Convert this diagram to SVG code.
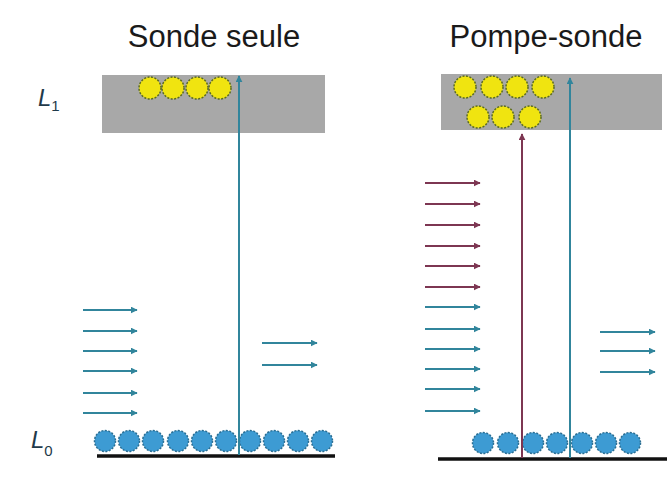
<svg xmlns="http://www.w3.org/2000/svg" width="667" height="485" viewBox="0 0 667 485">
<defs>
<style>
.title{font-family:"Liberation Sans",Arial,sans-serif;font-size:31px;fill:#1a1a1a}
.lvl{font-family:"Liberation Sans",Arial,sans-serif;font-style:italic;font-size:24px;fill:#1f3a4a}
.sub{font-style:normal;font-size:15px}
.band{fill:#a8a8a8}
.y{fill:#f0e410;stroke:#5a6a20;stroke-width:1.5;stroke-dasharray:2 1.5}
.b{fill:#3d9bd3;stroke:#2b6e92;stroke-width:1.5;stroke-dasharray:2 1.5}
.base{stroke:#111;stroke-width:3.5}
.t{stroke:#31859c;stroke-width:2;fill:none}
.r{stroke:#7d3652;stroke-width:2;fill:none}
</style>
<marker id="ht" viewBox="0 0 10 10" refX="9" refY="5" markerWidth="7" markerHeight="7" orient="auto" markerUnits="userSpaceOnUse"><path d="M0,0 L10,5 L0,10 z" fill="#31859c"/></marker>
<marker id="hr" viewBox="0 0 10 10" refX="9" refY="5" markerWidth="7" markerHeight="7" orient="auto" markerUnits="userSpaceOnUse"><path d="M0,0 L10,5 L0,10 z" fill="#7d3652"/></marker>
</defs>
<rect width="667" height="485" fill="#fff"/>
<g id="left-panel">
<text class="title" x="214" y="47" text-anchor="middle">Sonde seule</text>
<text class="lvl" x="38" y="106">L<tspan class="sub" dy="5">1</tspan></text>
<text class="lvl" x="31" y="448">L<tspan class="sub" dy="8">0</tspan></text>
<rect class="band" x="102" y="75" width="223" height="58"/>
<g id="left-excited">
<circle class="y" cx="150" cy="88" r="11"/><circle class="y" cx="173" cy="88" r="11"/><circle class="y" cx="197" cy="88" r="11"/><circle class="y" cx="220" cy="88" r="11"/>
</g>
<g id="left-ground">
<circle class="b" cx="105" cy="441" r="10.5"/><circle class="b" cx="129" cy="441" r="10.5"/><circle class="b" cx="153" cy="441" r="10.5"/><circle class="b" cx="178" cy="441" r="10.5"/><circle class="b" cx="202" cy="441" r="10.5"/><circle class="b" cx="226" cy="441" r="10.5"/><circle class="b" cx="250" cy="441" r="10.5"/><circle class="b" cx="274" cy="441" r="10.5"/><circle class="b" cx="298" cy="441" r="10.5"/><circle class="b" cx="322" cy="441" r="10.5"/>
</g>
<line class="base" x1="97" y1="456" x2="335" y2="456"/>
</g>
<g id="right-panel">
<text class="title" x="546" y="47" text-anchor="middle">Pompe-sonde</text>
<rect class="band" x="441" y="74" width="221" height="56"/>
<g id="right-excited">
<circle class="y" cx="465" cy="87" r="11"/><circle class="y" cx="492" cy="87" r="11"/><circle class="y" cx="517" cy="87" r="11"/><circle class="y" cx="543" cy="87" r="11"/>
<circle class="y" cx="478" cy="117" r="11"/><circle class="y" cx="503" cy="117" r="11"/><circle class="y" cx="530" cy="117" r="11"/>
</g>
<g id="right-ground">
<circle class="b" cx="483" cy="443" r="10.5"/><circle class="b" cx="508" cy="443" r="10.5"/><circle class="b" cx="533" cy="443" r="10.5"/><circle class="b" cx="557" cy="443" r="10.5"/><circle class="b" cx="582" cy="443" r="10.5"/><circle class="b" cx="606" cy="443" r="10.5"/><circle class="b" cx="630" cy="443" r="10.5"/>
</g>
<line class="base" x1="438" y1="459" x2="667" y2="459"/>
</g>
<g id="connectors">
<line class="t" x1="239" y1="455" x2="239" y2="76" marker-end="url(#ht)"/>
<line class="t" x1="570" y1="458" x2="570" y2="78" marker-end="url(#ht)"/>
<line class="r" x1="522" y1="458" x2="522" y2="134" marker-end="url(#hr)"/>
<g id="left-in">
<line class="t" x1="83" y1="310" x2="137" y2="310" marker-end="url(#ht)"/>
<line class="t" x1="83" y1="331" x2="137" y2="331" marker-end="url(#ht)"/>
<line class="t" x1="83" y1="351" x2="137" y2="351" marker-end="url(#ht)"/>
<line class="t" x1="83" y1="371" x2="137" y2="371" marker-end="url(#ht)"/>
<line class="t" x1="83" y1="393" x2="137" y2="393" marker-end="url(#ht)"/>
<line class="t" x1="83" y1="413" x2="137" y2="413" marker-end="url(#ht)"/>
</g>
<g id="left-out">
<line class="t" x1="262" y1="343" x2="317" y2="343" marker-end="url(#ht)"/>
<line class="t" x1="262" y1="365" x2="317" y2="365" marker-end="url(#ht)"/>
</g>
<g id="right-in">
<line class="r" x1="425" y1="183" x2="480" y2="183" marker-end="url(#hr)"/>
<line class="r" x1="425" y1="204" x2="480" y2="204" marker-end="url(#hr)"/>
<line class="r" x1="425" y1="225" x2="480" y2="225" marker-end="url(#hr)"/>
<line class="r" x1="425" y1="246" x2="480" y2="246" marker-end="url(#hr)"/>
<line class="r" x1="425" y1="266" x2="480" y2="266" marker-end="url(#hr)"/>
<line class="r" x1="425" y1="287" x2="480" y2="287" marker-end="url(#hr)"/>
<line class="t" x1="425" y1="307" x2="480" y2="307" marker-end="url(#ht)"/>
<line class="t" x1="425" y1="329" x2="480" y2="329" marker-end="url(#ht)"/>
<line class="t" x1="425" y1="349" x2="480" y2="349" marker-end="url(#ht)"/>
<line class="t" x1="425" y1="369" x2="480" y2="369" marker-end="url(#ht)"/>
<line class="t" x1="425" y1="389" x2="480" y2="389" marker-end="url(#ht)"/>
<line class="t" x1="425" y1="411" x2="480" y2="411" marker-end="url(#ht)"/>
</g>
<g id="right-out">
<line class="t" x1="600" y1="332" x2="655" y2="332" marker-end="url(#ht)"/>
<line class="t" x1="600" y1="351" x2="655" y2="351" marker-end="url(#ht)"/>
<line class="t" x1="600" y1="372" x2="655" y2="372" marker-end="url(#ht)"/>
</g>
</g>
</svg>
